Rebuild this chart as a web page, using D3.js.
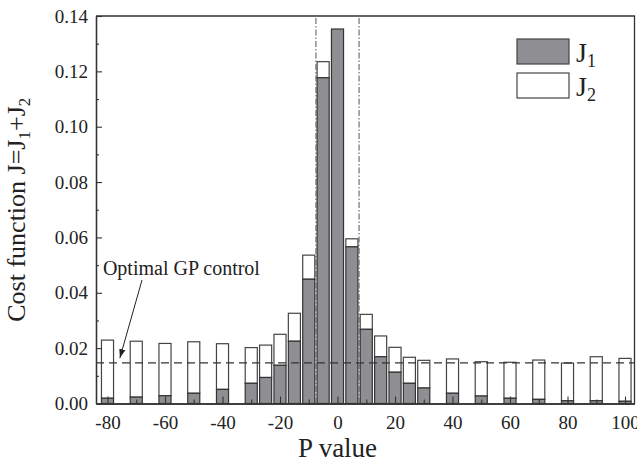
<!DOCTYPE html>
<html>
<head>
<meta charset="utf-8">
<script src="https://cdn.jsdelivr.net/npm/d3@7/dist/d3.min.js"></script>
<style>
  body { margin: 0; background: #fff; }
  svg { display: block; }
  svg text { font-family: "Liberation Serif", "Times New Roman", Times, Tinos, "Noto Serif", "DejaVu Serif", serif !important; fill: #222; }
</style>
</head>
<body>
<div id="chart"></div>
<script>

// P values of the bars
var pValues = [-80, -70, -60, -50, -40, -30, -25, -20, -15, -10, -5, 0, 5,
  10, 15, 20, 25, 30, 40, 50, 60, 70, 80, 90, 100];

// J1 (grey, bottom part)
var j1Values = [0.0019, 0.0023, 0.0028, 0.0037, 0.0051, 0.0073, 0.0094, 0.0138,
  0.0225, 0.0449, 0.1177, 0.1353, 0.0566, 0.0268, 0.0169, 0.0113, 0.0073,
  0.0056, 0.0037, 0.0027, 0.0019, 0.0015, 0.0010, 0.0010, 0.0008];

// J2 (white, stacked on top)
var j2Values = [0.0210, 0.0202, 0.0189, 0.0186, 0.0165, 0.0129, 0.0117, 0.0112,
  0.0101, 0.0087, 0.0058, 0.0000, 0.0029, 0.0054, 0.0075, 0.0090, 0.0094,
  0.0100, 0.0124, 0.0124, 0.0130, 0.0142, 0.0136, 0.0159, 0.0155];

var xMajorTicks = [-80, -60, -40, -20, 0, 20, 40, 60, 80, 100];
var xMinorTicks = [-70, -50, -30, -10, 10, 30, 50, 70, 90];
var yMajorTicks = [0, 0.02, 0.04, 0.06, 0.08, 0.10, 0.12, 0.14];
var yMinorTicks = [0.01, 0.03, 0.05, 0.07, 0.09, 0.11, 0.13];

var optimalGP = 0.0147;       // dashed reference level
var zoomWindow = [-7.5, 7.5]; // dash-dot box round the centre bars


CostChart = function(_parentElement) {
  this.parentElement = _parentElement;
  this.initVis();
};

CostChart.prototype.initVis = function() {
  var vis = this;

  vis.margin = {top: 16, right: 2.5, bottom: 60.5, left: 96};
  vis.width = 637 - vis.margin.left - vis.margin.right;
  vis.height = 464 - vis.margin.top - vis.margin.bottom;

  vis.svg = d3.select(vis.parentElement).append("svg")
    .attr("width", 637)
    .attr("height", 464)
    .append("g")
    .attr("transform", "translate(" + vis.margin.left + "," + vis.margin.top + ")");

  vis.x = d3.scaleLinear().domain([-84, 103.3]).range([0, vis.width]);
  vis.y = d3.scaleLinear().domain([0, 0.14]).range([vis.height, 0]);

  vis.data = pValues.map(function(p, i) {
    return {p: p, j1: j1Values[i], j2: j2Values[i]};
  });

  vis.updateVis();
};

CostChart.prototype.updateVis = function() {
  var vis = this;
  var half = 2.1;

  // J2 part (white) first, J1 on top of its bottom
  vis.svg.selectAll(".bar-j2")
    .data(vis.data)
    .enter().append("rect")
    .attr("class", "bar-j2")
    .attr("x", function(d) { return vis.x(d.p - half); })
    .attr("width", function(d) { return vis.x(d.p + half) - vis.x(d.p - half); })
    .attr("y", function(d) { return vis.y(d.j1 + d.j2); })
    .attr("height", function(d) { return vis.y(d.j1) - vis.y(d.j1 + d.j2); })
    .attr("fill", "#fff")
    .attr("stroke", "#444")
    .attr("stroke-width", 1.2);

  vis.svg.selectAll(".bar-j1")
    .data(vis.data)
    .enter().append("rect")
    .attr("class", "bar-j1")
    .attr("x", function(d) { return vis.x(d.p - half); })
    .attr("width", function(d) { return vis.x(d.p + half) - vis.x(d.p - half); })
    .attr("y", function(d) { return vis.y(d.j1); })
    .attr("height", function(d) { return vis.y(0) - vis.y(d.j1); })
    .attr("fill", "#8f8f93")
    .attr("stroke", "#333")
    .attr("stroke-width", 1.2);

  // optimal GP control level
  vis.svg.append("line")
    .attr("x1", 0).attr("x2", vis.width)
    .attr("y1", vis.y(optimalGP)).attr("y2", vis.y(optimalGP))
    .attr("stroke", "#333")
    .attr("stroke-width", 1.2)
    .attr("stroke-dasharray", "8,5");

  // dash-dot window
  zoomWindow.forEach(function(p) {
    vis.svg.append("line")
      .attr("x1", vis.x(p)).attr("x2", vis.x(p))
      .attr("y1", vis.y(0)).attr("y2", vis.y(0.14))
      .attr("stroke", "#555")
      .attr("stroke-width", 1)
      .attr("stroke-dasharray", "6,2,1.5,2");
  });

  vis.drawAxes();
  vis.drawLabels();
};

CostChart.prototype.drawAxes = function() {
  var vis = this;

  var xAxis = vis.svg.append("g")
    .attr("transform", "translate(0," + vis.height + ")")
    .call(d3.axisBottom(vis.x).tickValues(xMajorTicks).tickSizeInner(-7).tickSizeOuter(0)
      .tickPadding(12).tickFormat(function(d) { return String(d); }));

  var xMinor = vis.svg.append("g")
    .attr("transform", "translate(0," + vis.height + ")")
    .call(d3.axisBottom(vis.x).tickValues(xMinorTicks).tickSizeInner(-4).tickSizeOuter(0)
      .tickFormat(""));

  var yAxis = vis.svg.append("g")
    .call(d3.axisLeft(vis.y).tickValues(yMajorTicks).tickSizeInner(-6).tickSizeOuter(0)
      .tickPadding(8).tickFormat(d3.format(".2f")));

  var yMinor = vis.svg.append("g")
    .call(d3.axisLeft(vis.y).tickValues(yMinorTicks).tickSizeInner(-3).tickSizeOuter(0)
      .tickFormat(""));

  [xAxis, xMinor, yAxis, yMinor].forEach(function(g) {
    g.attr("font-family", null);
    g.select(".domain").attr("stroke", "#333").attr("stroke-width", 1.3);
    g.selectAll(".tick line").attr("stroke", "#333").attr("stroke-width", 1.1);
    g.selectAll(".tick text")
      .style("font-size", "19px")
      .attr("fill", "#222");
  });

  // top and right frame
  vis.svg.append("path")
    .attr("d", "M0,0H" + vis.width + "V" + vis.height)
    .attr("fill", "none")
    .attr("stroke", "#333")
    .attr("stroke-width", 1.3);
};

CostChart.prototype.drawLabels = function() {
  var vis = this;

  // x title
  vis.svg.append("text")
    .attr("x", vis.x(0))
    .attr("y", vis.height + 53)
    .attr("text-anchor", "middle")
    .style("font-size", "27px")
    .text("P value");

  // y title
  var yt = vis.svg.append("text")
    .attr("transform", "translate(" + (25 - vis.margin.left) + "," + (vis.height / 2) + ") rotate(-90)")
    .attr("text-anchor", "middle")
    .style("font-size", "26px");
  yt.append("tspan").text("Cost function J=J");
  yt.append("tspan").attr("dy", 5).style("font-size", "17px").text("1");
  yt.append("tspan").attr("dy", -5).text("+J");
  yt.append("tspan").attr("dy", 5).style("font-size", "17px").text("2");

  // annotation
  vis.svg.append("text")
    .attr("x", vis.x(-81.6))
    .attr("y", vis.y(0.0464))
    .style("font-size", "20px")
    .text("Optimal GP control");

  vis.svg.append("defs").append("marker")
    .attr("id", "arrow")
    .attr("viewBox", "0 0 10 10")
    .attr("refX", 10).attr("refY", 5)
    .attr("markerWidth", 9).attr("markerHeight", 9)
    .attr("markerUnits", "userSpaceOnUse")
    .attr("orient", "auto")
    .append("path")
    .attr("d", "M0,1.5L10,5L0,8.5Z")
    .attr("fill", "#222");

  vis.svg.append("line")
    .attr("x1", vis.x(-68)).attr("y1", vis.y(0.0446))
    .attr("x2", vis.x(-75.7)).attr("y2", vis.y(0.0164))
    .attr("stroke", "#222")
    .attr("stroke-width", 1)
    .attr("marker-end", "url(#arrow)");

  // legend
  var legend = vis.svg.append("g")
    .attr("transform", "translate(" + (517 - vis.margin.left) + "," + (39 - vis.margin.top) + ")");

  var items = [{label: "1", fill: "#8f8f93"}, {label: "2", fill: "#fff"}];
  items.forEach(function(it, i) {
    legend.append("rect")
      .attr("x", 0).attr("y", i * 34)
      .attr("width", 52).attr("height", 25)
      .attr("fill", it.fill)
      .attr("stroke", "#444")
      .attr("stroke-width", 1.2);
    var t = legend.append("text")
      .attr("x", 59).attr("y", i * 34 + 23)
      .style("font-size", "28px");
    t.append("tspan").text("J");
    t.append("tspan").attr("dy", 5).style("font-size", "18px").text(it.label);
  });
};

var chart = new CostChart("#chart");

</script>
</body>
</html>
